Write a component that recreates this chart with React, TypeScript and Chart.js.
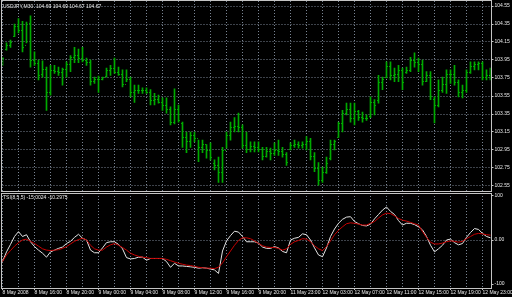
import React, { useEffect, useRef } from "react";
import { Chart, registerables } from "chart.js";

Chart.register(...registerables);

// ---------- data ----------
const symbolHeader = "USDJPY,M30  104.69 104.69 104.67 104.67";
const tsiHeader = "TSI(8,5,5) -15.0024 -10.2975";

// time axis labels, one every 8 bars (4 hours of M30 bars)
const timeLabels = [
  "8 May 2008", "8 May 16:00", "8 May 20:00", "9 May 00:00", "9 May 04:00", "9 May 08:00",
  "9 May 12:00", "9 May 16:00", "9 May 20:00", "11 May 23:00", "12 May 03:00", "12 May 07:00",
  "12 May 11:00", "12 May 15:00", "12 May 19:00", "12 May 23:00",
];

const priceTicks = [102.55, 102.75, 102.95, 103.15, 103.35, 103.55, 103.75, 103.95, 104.15, 104.35, 104.55];
const tsiTicks = [-100, 0, 100];

const highs = [
  103.98, 104.14, 104.17, 104.35, 104.41, 104.38, 104.37, 104.44, 104.04, 103.95,
  103.94, 103.87, 103.89, 103.89, 103.87, 103.86, 103.93, 104.00, 104.09, 104.07,
  104.09, 103.97, 103.95, 103.76, 103.77, 103.76, 103.86, 103.89, 103.97, 103.87,
  103.84, 103.84, 103.76, 103.67, 103.67, 103.64, 103.64, 103.62, 103.58, 103.56,
  103.53, 103.53, 103.43, 103.63, 103.45, 103.26, 103.15, 103.15, 103.15, 103.06,
  103.06, 103.01, 103.03, 102.84, 102.87, 102.98, 103.15, 103.26, 103.31, 103.36,
  103.23, 103.15, 103.04, 103.04, 103.04, 102.98, 102.98, 102.97, 103.03, 103.06,
  102.98, 102.92, 103.03, 103.06, 103.04, 103.04, 103.10, 103.08, 102.92, 102.81,
  102.76, 102.87, 103.06, 103.06, 103.26, 103.39, 103.47, 103.47, 103.47, 103.39,
  103.37, 103.34, 103.54, 103.51, 103.78, 103.76, 103.93, 103.93, 103.86, 103.89,
  103.86, 103.87, 103.98, 104.03, 103.97, 103.95, 103.82, 103.82, 103.54, 103.73,
  103.76, 103.84, 103.84, 103.89, 103.73, 103.67, 103.84, 103.93, 103.93, 103.93,
  103.93, 103.84, 103.86,
];

const lows = [
  103.89, 104.06, 104.09, 104.21, 104.25, 104.04, 104.14, 103.87, 103.89, 103.73,
  103.76, 103.39, 103.56, 103.80, 103.78, 103.67, 103.76, 103.82, 103.92, 103.92,
  103.93, 103.89, 103.67, 103.69, 103.59, 103.73, 103.76, 103.78, 103.80, 103.78,
  103.65, 103.71, 103.54, 103.48, 103.58, 103.58, 103.58, 103.45, 103.45, 103.47,
  103.39, 103.36, 103.23, 103.24, 103.26, 102.98, 102.92, 102.98, 103.04, 102.82,
  102.92, 102.86, 102.84, 102.73, 102.59, 102.59, 102.97, 103.06, 103.15, 103.15,
  102.97, 102.92, 102.93, 102.93, 102.93, 102.84, 102.87, 102.84, 102.89, 102.89,
  102.87, 102.78, 102.95, 102.98, 102.97, 102.97, 102.95, 102.84, 102.71, 102.56,
  102.59, 102.69, 102.84, 102.95, 103.09, 103.15, 103.34, 103.26, 103.23, 103.28,
  103.26, 103.28, 103.31, 103.34, 103.47, 103.62, 103.75, 103.73, 103.71, 103.71,
  103.62, 103.80, 103.82, 103.87, 103.82, 103.67, 103.71, 103.51, 103.25, 103.43,
  103.59, 103.58, 103.69, 103.67, 103.54, 103.53, 103.59, 103.80, 103.84, 103.84,
  103.73, 103.73, 103.73,
];

const opens = [
  103.90, 104.07, 104.12, 104.22, 104.33, 104.28, 104.12, 104.36, 103.95, 103.92,
  103.80, 103.85, 103.60, 103.84, 103.83, 103.82, 103.85, 103.90, 103.98, 104.00,
  103.97, 103.95, 103.93, 103.72, 103.74, 103.74, 103.77, 103.84, 103.86, 103.82,
  103.80, 103.68, 103.74, 103.60, 103.62, 103.62, 103.62, 103.60, 103.50, 103.52,
  103.48, 103.45, 103.40, 103.26, 103.40, 103.25, 103.10, 103.05, 103.12, 103.08,
  102.98, 103.02, 102.95, 102.80, 102.78, 102.70, 102.95, 103.12, 103.20, 103.22,
  103.20, 103.00, 102.96, 102.99, 102.98, 102.96, 102.88, 102.94, 102.92, 102.95,
  102.94, 102.90, 102.96, 103.00, 103.02, 103.00, 103.02, 103.05, 102.88, 102.75,
  102.62, 102.70, 102.86, 103.02, 103.10, 103.25, 103.36, 103.40, 103.30, 103.38,
  103.32, 103.30, 103.33, 103.48, 103.50, 103.70, 103.76, 103.88, 103.78, 103.80,
  103.84, 103.82, 103.84, 103.95, 103.93, 103.90, 103.72, 103.78, 103.52, 103.45,
  103.62, 103.68, 103.80, 103.80, 103.70, 103.60, 103.62, 103.82, 103.88, 103.90,
  103.92, 103.76, 103.78,
];

const closes = [
  103.97, 104.12, 104.15, 104.33, 104.28, 104.10, 104.35, 103.95, 103.92, 103.78,
  103.85, 103.60, 103.84, 103.83, 103.82, 103.85, 103.90, 103.98, 104.00, 103.97,
  103.95, 103.93, 103.72, 103.74, 103.74, 103.76, 103.84, 103.86, 103.82, 103.80,
  103.68, 103.74, 103.60, 103.62, 103.62, 103.62, 103.60, 103.50, 103.52, 103.48,
  103.45, 103.40, 103.26, 103.40, 103.28, 103.10, 103.05, 103.12, 103.08, 102.98,
  103.02, 102.95, 102.87, 102.78, 102.70, 102.95, 103.12, 103.20, 103.22, 103.20,
  103.00, 102.96, 102.99, 102.98, 102.96, 102.88, 102.94, 102.92, 102.95, 102.94,
  102.90, 102.82, 103.00, 103.02, 103.00, 103.02, 103.05, 102.88, 102.75, 102.62,
  102.70, 102.80, 103.02, 103.05, 103.25, 103.36, 103.40, 103.30, 103.38, 103.32,
  103.30, 103.31, 103.48, 103.45, 103.70, 103.74, 103.88, 103.78, 103.80, 103.84,
  103.70, 103.84, 103.95, 103.93, 103.90, 103.72, 103.78, 103.55, 103.45, 103.62,
  103.68, 103.80, 103.80, 103.70, 103.60, 103.62, 103.82, 103.88, 103.90, 103.92,
  103.76, 103.78, 103.76,
];

const tsiMain = [
  -49, -27, -10, 8, 19, 8, 12, -4, -15, -23,
  -30, -39, -27, -23, -19, -16, -8, -3, 6, 13,
  4, 0, -23, -29, -29, -18, -6, -4, -4, -10,
  -20, -40, -43, -42, -39, -39, -46, -42, -42, -42,
  -42, -49, -62, -53, -59, -59, -60, -61, -62, -64,
  -63, -64, -66, -68, -76, -25, -2, 10, 20, 18,
  8, -4, -4, -4, -7, -16, -19, -19, -15, -18,
  -26, -29, 0, 4, 6, 14, 12, 0, -18, -34,
  -38, -18, 8, 25, 38, 47, 52, 53, 42, 37,
  33, 32, 36, 48, 58, 68, 75, 65, 58, 44,
  34, 38, 38, 35, 30, 23, 8, -12, -27, -20,
  -12, 0, 2, -6, -11, -8, 6, 17, 26, 24,
  15, 8, 5,
];

const tsiSignal = [
  -49, -34, -24, -14, -6, 0, 2, -3, -8, -14,
  -20, -23, -24, -23, -22, -19, -15, -9, -3, 1,
  4, 0, -12, -20, -23, -23, -16, -11, -8, -12,
  -17, -23, -30, -34, -37, -39, -40, -42, -42, -42,
  -42, -44, -47, -50, -53, -55, -57, -58, -60, -62,
  -63, -64, -64, -65, -62, -52, -38, -25, -12, -1,
  5, 5, 3, -2, -8, -13, -16, -17, -17, -19,
  -23, -20, -10, -4, -1, 3, 2, -4, -13, -20,
  -24, -15, -2, 12, 22, 30, 37, 39, 38, 36,
  34, 34, 38, 42, 50, 57, 61, 60, 55, 49,
  45, 43, 40, 37, 34, 19, 6, -5, -9, -9,
  -7, -4, -2, -3, -5, -3, 3, 8, 13, 15,
  14, 12, 11,
];

// ---------- styles ----------
const FONT = "'Liberation Sans', Arial, sans-serif";
const GRID = "#7a8594";
const FRAME = "#c4c4c4";
const TEXT = "#e8e8e8";
const BAR = "#00aa00";
const BAR_LAST = "#00e000";

const barLabels = highs.map((_, i) => (i % 8 === 0 ? timeLabels[i / 8] : ""));

const framePlugin = (topShift: number) => ({
  id: "mtFrame",
  afterDraw(chart: any) {
    const { ctx, chartArea: a } = chart;
    ctx.save();
    ctx.strokeStyle = FRAME;
    ctx.lineWidth = 1;
    const l = Math.floor(a.left) - 0.5;
    const r = Math.floor(a.right) + 1.5;
    const t = Math.round(a.top) + topShift + 0.5;
    const b = Math.round(a.bottom) + 0.5;
    ctx.strokeRect(l, t, r - l, b - t);
    ctx.restore();
  },
});

const ohlcTicksPlugin = {
  id: "ohlcTicks",
  afterDatasetsDraw(chart: any) {
    const { ctx } = chart;
    const xs = chart.scales.x;
    const ys = chart.scales.y;
    ctx.save();
    for (let i = 0; i < opens.length; i++) {
      const x = xs.getPixelForValue(i);
      ctx.fillStyle = i === opens.length - 1 ? BAR_LAST : BAR;
      const yo = Math.round(ys.getPixelForValue(opens[i]));
      const yc = Math.round(ys.getPixelForValue(closes[i]));
      ctx.fillRect(Math.round(x - 1.5), yo, 1, 1);
      ctx.fillRect(Math.round(x + 0.5), yc, 1, 1);
    }
    ctx.restore();
  },
};

const Y_AXIS_W = 21.5;

function PriceChart() {
  const ref = useRef<HTMLCanvasElement>(null);
  useEffect(() => {
    const chart = new Chart(ref.current!, {
      type: "bar",
      data: {
        labels: barLabels,
        datasets: [
          {
            data: highs.map((h, i) => [lows[i], h]) as any,
            backgroundColor: (c: any) => (c.dataIndex === highs.length - 1 ? BAR_LAST : BAR),
            borderWidth: 0,
            barThickness: 1,
          },
        ],
      },
      options: {
        animation: false,
        responsive: false,
        maintainAspectRatio: false,
        layout: { padding: { left: 2.5, top: 1, bottom: 1, right: 0 } },
        plugins: { legend: { display: false }, tooltip: { enabled: false } },
        scales: {
          x: {
            type: "category",
            offset: false,
            grid: {
              offset: false,
              drawTicks: false,
              color: (c: any) => (c.index % 4 === 0 ? GRID : "transparent"),
            },
            border: { display: false, dash: [1, 2] },
            ticks: { display: false },
            afterFit: (s: any) => {
              s.height = 0;
              s.paddingLeft = 0;
              s.paddingRight = 0;
            },
          },
          y: {
            position: "right",
            min: 104.55 - (104.55 - 102.55) * (185 / 180),
            max: 104.55 + (104.55 - 102.55) * (5 / 180),
            afterBuildTicks: (s: any) => {
              s.ticks = priceTicks.map((v) => ({ value: v }));
            },
            ticks: {
              color: TEXT,
              font: { size: 5, family: FONT },
              padding: 1,
              callback: (v: any) => Number(v).toFixed(2),
            },
            grid: { color: GRID, tickColor: FRAME, tickLength: 3, drawTicks: true },
            border: { display: false, dash: [1, 2] },
            afterFit: (s: any) => {
              s.width = Y_AXIS_W;
              s.paddingTop = 0;
              s.paddingBottom = 0;
            },
          },
        },
      } as any,
      plugins: [ohlcTicksPlugin, framePlugin(-1)],
    });
    return () => chart.destroy();
  }, []);
  return <canvas ref={ref} width={512} height={192} style={{ position: "absolute", left: 0, top: 0, width: 512, height: 192 }} />;
}

function TsiChart() {
  const ref = useRef<HTMLCanvasElement>(null);
  useEffect(() => {
    const chart = new Chart(ref.current!, {
      type: "line",
      data: {
        labels: barLabels,
        datasets: [
          {
            data: tsiSignal,
            borderColor: "#c80000",
            borderWidth: 1,
            pointRadius: 0,
            tension: 0,
          },
          {
            data: tsiMain,
            borderColor: "#e4e4e4",
            borderWidth: 1,
            pointRadius: 0,
            tension: 0,
          },
        ],
      },
      options: {
        animation: false,
        responsive: false,
        maintainAspectRatio: false,
        layout: { padding: { left: 2.5, top: 1, bottom: 0, right: 0 } },
        plugins: { legend: { display: false }, tooltip: { enabled: false } },
        scales: {
          x: {
            type: "category",
            offset: false,
            grid: {
              offset: false,
              drawTicks: true,
              tickLength: 2,
              color: (c: any) => (c.index % 4 === 0 ? GRID : "transparent"),
              tickColor: (c: any) => (c.index % 8 === 0 ? FRAME : "transparent"),
            },
            border: { display: false, dash: [1, 2] },
            ticks: {
              color: TEXT,
              font: { size: 5, family: FONT },
              padding: 0,
              autoSkip: false,
              maxRotation: 0,
              minRotation: 0,
              align: "start",
            },
            afterFit: (s: any) => {
              s.height = 9;
              s.paddingLeft = 0;
              s.paddingRight = 0;
            },
          },
          y: {
            position: "right",
            min: -100 - 200 * (4 / 88),
            max: 100 + 200 * (3 / 88),
            afterBuildTicks: (s: any) => {
              s.ticks = tsiTicks.map((v) => ({ value: v }));
            },
            ticks: {
              color: TEXT,
              font: { size: 5, family: FONT },
              padding: 1,
              callback: (v: any) => (Number(v) === 0 ? "0.00" : String(v)),
            },
            grid: {
              color: (c: any) => (c.tick && c.tick.value === 0 ? GRID : "transparent"),
              tickColor: FRAME,
              tickLength: 3,
              drawTicks: true,
            },
            border: { display: false, dash: [1, 2] },
            afterFit: (s: any) => {
              s.width = Y_AXIS_W;
              s.paddingTop = 0;
              s.paddingBottom = 0;
            },
          },
        },
      } as any,
      plugins: [framePlugin(0)],
    });
    return () => chart.destroy();
  }, []);
  return <canvas ref={ref} width={512} height={105} style={{ position: "absolute", left: 0, top: 192, width: 512, height: 105 }} />;
}

export default function App() {
  const textStyle: React.CSSProperties = {
    position: "absolute",
    left: 3,
    fontFamily: FONT,
    fontSize: 5,
    lineHeight: "6px",
    color: TEXT,
    whiteSpace: "pre",
    zIndex: 2,
  };
  return (
    <div style={{ position: "fixed", left: 0, top: 0, width: 512, height: 297, background: "#000", overflow: "hidden" }}>
      <PriceChart />
      <TsiChart />
      <div style={{ ...textStyle, top: 2.5 }}>{symbolHeader}</div>
      <div style={{ ...textStyle, top: 193.5 }}>{tsiHeader}</div>
    </div>
  );
}
